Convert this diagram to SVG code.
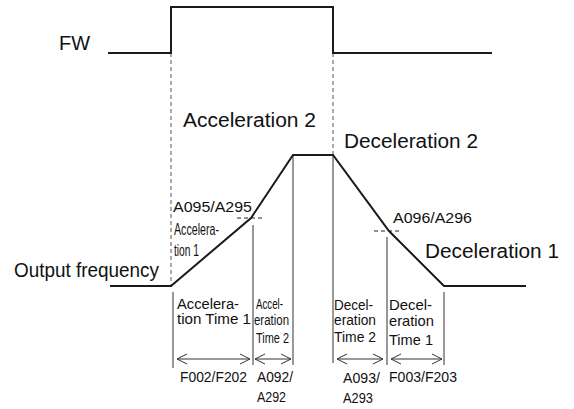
<svg xmlns="http://www.w3.org/2000/svg" width="574" height="409" viewBox="0 0 574 409">
<defs>
<style>
.sig{fill:none;stroke:#1a1a1a;stroke-width:2;stroke-linejoin:miter}
.dash{fill:none;stroke:#555;stroke-width:1;stroke-dasharray:4 3}
.dash2{fill:none;stroke:#222;stroke-width:1;stroke-dasharray:4 3}
.vl{fill:none;stroke:#333;stroke-width:1}
.arr{fill:none;stroke:#333;stroke-width:1;marker-start:url(#ah);marker-end:url(#ah)}
text{font-family:"Liberation Sans",Arial,sans-serif;fill:#111}
.big{font-size:20px}
.mid{font-size:15px}
.nar{font-size:15px}
.tall{font-size:16.5px}
.sm{font-size:14px}
</style>
<marker id="ah" viewBox="0 0 12 12" refX="11" refY="6" markerWidth="12" markerHeight="12" markerUnits="userSpaceOnUse" orient="auto-start-reverse">
<path d="M1,1 L11,6 L1,11" fill="none" stroke="#333" stroke-width="1"/>
</marker>
</defs>
<g id="connectors">
<path class="dash" d="M171,53 V287"/>
<path class="dash" d="M333,53 V154"/>
<path class="dash2" d="M237,218 H263"/>
<path class="dash2" d="M374,231 H402"/>
<path class="vl" d="M173,292 V368"/>
<path class="vl" d="M253,225 V365"/>
<path class="vl" d="M293,155 V365"/>
<path class="vl" d="M333,155 V363"/>
<path class="vl" d="M387,237 V365"/>
<path class="vl" d="M444,292 V365"/>
<path class="arr" d="M177,359 H250"/>
<path class="arr" d="M255,359 H291"/>
<path class="arr" d="M337,359 H383"/>
<path class="arr" d="M391,359 H442"/>
</g>
<g id="fw-signal">
<path class="sig" d="M108,53 H171 V7 H333 V53 H492"/>
<text class="big" x="59" y="50" textLength="31" lengthAdjust="spacingAndGlyphs">FW</text>
</g>
<g id="output-frequency">
<path class="sig" d="M110,286 H171 L251,218 L293,155 H333 L389,231 L444,286 H526"/>
<text class="big" x="14" y="277" textLength="145" lengthAdjust="spacingAndGlyphs">Output frequency</text>
</g>
<g id="label-acc2"><text class="big" x="183" y="127" textLength="133" lengthAdjust="spacingAndGlyphs">Acceleration 2</text></g>
<g id="label-dec2"><text class="big" x="344" y="148" textLength="134" lengthAdjust="spacingAndGlyphs">Deceleration 2</text></g>
<g id="label-dec1"><text class="big" x="425" y="258" textLength="134" lengthAdjust="spacingAndGlyphs">Deceleration 1</text></g>
<g id="label-acc1">
<text class="mid" x="173" y="212" textLength="79" lengthAdjust="spacingAndGlyphs">A095/A295</text>
<text class="tall" x="174" y="235" textLength="45" lengthAdjust="spacingAndGlyphs">Accelera-</text>
<text class="tall" x="174" y="256" textLength="25" lengthAdjust="spacingAndGlyphs">tion 1</text>
</g>
<g id="label-a096"><text class="mid" x="393" y="223" textLength="79" lengthAdjust="spacingAndGlyphs">A096/A296</text></g>
<g id="acc-time1">
<text class="sm" x="177" y="309" textLength="62" lengthAdjust="spacingAndGlyphs">Accelera-</text>
<text class="sm" x="177" y="324" textLength="74" lengthAdjust="spacingAndGlyphs">tion Time 1</text>
<text class="sm" x="180" y="382" textLength="67" lengthAdjust="spacingAndGlyphs">F002/F202</text>
</g>
<g id="acc-time2">
<text class="sm" x="256" y="309" textLength="27" lengthAdjust="spacingAndGlyphs">Accel-</text>
<text class="sm" x="254" y="325" textLength="35" lengthAdjust="spacingAndGlyphs">eration</text>
<text class="nar" x="256" y="343" textLength="33" lengthAdjust="spacingAndGlyphs">Time 2</text>
<text class="sm" x="257" y="382" textLength="36" lengthAdjust="spacingAndGlyphs">A092/</text>
<text class="sm" x="257" y="402" textLength="29" lengthAdjust="spacingAndGlyphs">A292</text>
</g>
<g id="dec-time2">
<text class="sm" x="334" y="310" textLength="39" lengthAdjust="spacingAndGlyphs">Decel-</text>
<text class="sm" x="334" y="325" textLength="42" lengthAdjust="spacingAndGlyphs">eration</text>
<text class="nar" x="334" y="342" textLength="42" lengthAdjust="spacingAndGlyphs">Time 2</text>
<text class="sm" x="343" y="383" textLength="37" lengthAdjust="spacingAndGlyphs">A093/</text>
<text class="sm" x="343" y="403" textLength="30" lengthAdjust="spacingAndGlyphs">A293</text>
</g>
<g id="dec-time1">
<text class="nar" x="389" y="310" textLength="43" lengthAdjust="spacingAndGlyphs">Decel-</text>
<text class="nar" x="389" y="326" textLength="45" lengthAdjust="spacingAndGlyphs">eration</text>
<text class="nar" x="389" y="345" textLength="44" lengthAdjust="spacingAndGlyphs">Time 1</text>
<text class="sm" x="389" y="382" textLength="68" lengthAdjust="spacingAndGlyphs">F003/F203</text>
</g>
</svg>
